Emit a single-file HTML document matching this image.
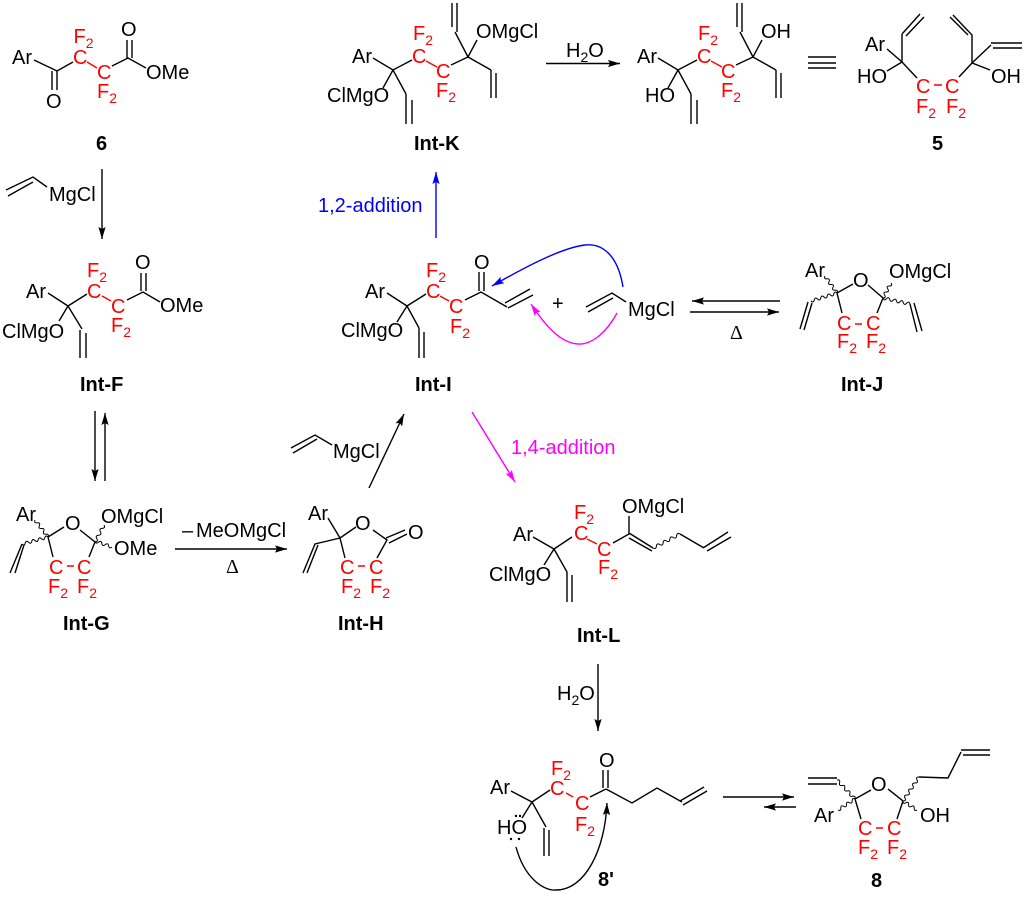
<!DOCTYPE html>
<html><head><meta charset="utf-8"><style>
html,body{margin:0;padding:0;background:#fff}
svg{display:block}
text{font-family:"Liberation Sans",Arial,sans-serif;font-size:20px;fill:#000}
.r text,text.r{fill:#f00}
.b{font-weight:bold}
.s{font-size:14px}
.d{font-family:"Liberation Serif",serif}
</style></head><body>
<svg width="1024" height="897" viewBox="0 0 1024 897" xmlns="http://www.w3.org/2000/svg">
<defs>
<marker id="ak" markerUnits="userSpaceOnUse" markerWidth="14" markerHeight="10" refX="12" refY="4" orient="auto"><path d="M0 .4L12 4L0 7.6L2 4Z" fill="#000"/></marker>
<marker id="ab" markerUnits="userSpaceOnUse" markerWidth="14" markerHeight="10" refX="12" refY="4" orient="auto"><path d="M0 .4L12 4L0 7.6L2 4Z" fill="#00f"/></marker>
<marker id="am" markerUnits="userSpaceOnUse" markerWidth="14" markerHeight="10" refX="12" refY="4" orient="auto"><path d="M0 .4L12 4L0 7.6L2 4Z" fill="#f0f"/></marker>
</defs>

<!-- black bonds -->
<path fill="none" stroke="#000" stroke-width="1.4" d="
M34 60L57 71L73 62M52 71V90M57 71V90M112 66L128 58L146 68M127 40V58M132 40V58
M6 190L33 177L47 187M8 196L33 182
M48 293L68 306L87 294M68 306L59 321M68 306L82 329M80 330V358M86 333V358M127 300L143 292L160 302M141 273V291M146 273V291
M373 58L393 70L412 60M393 70L383 88M393 70L406 94M406 94V124M412 100V124M451 65L468 57L477 40M468 57L455 32M457 32V3M452 27V3M468 57L491 70M491 70V98M496 73V98
M658 58L678 70L697 60M678 70L668 88M678 70L691 94M691 94V124M697 100V124M736 65L753 57L762 40M753 57L740 32M742 32V3M737 27V3M753 57L776 70M776 70V98M781 73V98
M808 57H836M808 63H836M808 68H836
M887 49L902 62L887 71M902 62V34M902 34L920 14M906 36L924 17M902 62L917 78M959 77L972 63L990 70M972 63V35L953 15M968 35L950 17M972 63L991 45M991 43H1022M993 48H1022
M387 293L407 306L426 294M407 306L397 322M407 306L419 328M419 328V358M424 332V358M465 300L481 292L507 307M479 272V291M484 272V291M505 303L530 289M508 308L533 295
M586 307L612 293L626 302M588 312L613 298
M291 448L315 435L332 445M293 453L317 439
M853 284L837 293L842 313M868 285L883 298L877 313M808 302L800 329M812 303L804 330M910 304L917 332M914 303L922 331
M48 537L64 527M80 530L95 542L89 557M48 537L53 557M22 544L10 573M24 545L15 573
M328 518L340 538L356 527M373 530L387 540L377 558M386 538L405 530M389 543L407 534M340 538L345 558M340 538L315 544L303 573M318 545L307 573
M533 537L554 549L572 537M554 549L544 565M554 549L567 572M567 572V602M572 575V602M613 543L629 534V516M629 533L653 548M629 538L652 551M680 534L704 548M703 548L728 532M707 551L731 537
M511 791L532 802L550 790M532 802L522 818M532 802L546 827M544 828V856M549 830V856M590 797L606 789M603 770V788M608 770V788M606 789L632 803L657 788L682 802M680 801L704 787M683 805L707 791
M855 799L871 790M888 789L903 801L897 819M855 799L861 819M808 778H837M808 784H837M919 777L948 778L961 752M961 750H990M963 755H990"/>

<!-- wavy bonds -->
<path fill="none" stroke="#000" stroke-width="1" d="
M35 520q-1.3 3.24 2.17 2.83t2.17 2.83t2.17 2.83t2.17 2.83t2.17 2.83t2.17 2.83
M48 537q-2.4 -2.45 -3.25 .875t-3.25 .875t-3.25 .875t-3.25 .875t-3.25 .875t-3.25 .875t-3.25 .875t-3.25 .875
M95 542q3.55 -.3 1.8 -3.4t1.8 -3.4t1.8 -3.4t1.8 -3.4t1.8 -3.4
M95 541q.7 3.43 3.4 1.2t3.4 1.2t3.4 1.2t3.4 1.2t3.4 1.2
M825 276q-1.45 3.15 2 2.83t2 2.83t2 2.83t2 2.83t2 2.83t2 2.83
M837 293q-2.5 -2.37 -3.25 1t-3.25 1t-3.25 1t-3.25 1t-3.25 1t-3.25 1t-3.25 1t-3.25 1
M883 298q3.45 -.09 1.6 -3t1.6 -3t1.6 -3t1.6 -3t1.6 -3
M883 298q1.04 3.3 3.375 .75t3.375 .75t3.375 .75t3.375 .75t3.375 .75t3.375 .75t3.375 .75t3.375 .75
M653 548q3.07 1.79 3.375 -1.75t3.375 -1.75t3.375 -1.75t3.375 -1.75t3.375 -1.75t3.375 -1.75t3.375 -1.75t3.375 -1.75
M855 799q.88 -3.42 -2.57 -2.71t-2.57 -2.71t-2.57 -2.71t-2.57 -2.71t-2.57 -2.71t-2.57 -2.71t-2.57 -2.71
M855 799q-3.05 -1.6 -2.83 1.83t-2.83 1.83t-2.83 1.83t-2.83 1.83t-2.83 1.83t-2.83 1.83
M903 801q3.5 .17 2 -3t2 -3t2 -3t2 -3t2 -3t2 -3t2 -3t2 -3
M903 801q-.22 3.42 2.8 1.8t2.8 1.8t2.8 1.8t2.8 1.8t2.8 1.8"/>

<!-- red bonds -->
<path fill="none" stroke="#f00" stroke-width="1.4" d="
M87 62L97 68M102 296L111 301M426 61L437 67M711 61L722 67M934 85H942M440 296L449 301M855 324H862M67 566H74M358 566H365M587 539L597 544M566 793L573 797M876 828H883"/>

<!-- arrows -->
<g fill="none" stroke="#000" stroke-width="1.4">
<path marker-end="url(#ak)" d="M102 169V239"/>
<path marker-end="url(#ak)" d="M546 63.5H620"/>
<path marker-end="url(#ak)" d="M95 411V481"/>
<path marker-end="url(#ak)" d="M105 481V413"/>
<path marker-end="url(#ak)" d="M175 549H287"/>
<path marker-end="url(#ak)" d="M369 488L404 414"/>
<path marker-end="url(#ak)" d="M780 301H692"/>
<path marker-end="url(#ak)" d="M690 312H779"/>
<path marker-end="url(#ak)" d="M598 664V731"/>
<path marker-end="url(#ak)" d="M723 797H794"/>
<path marker-end="url(#ak)" d="M796 807H764"/>
<path marker-end="url(#ak)" d="M516 847C525 880 545 891 556 890C585 890 605 850 607 803"/>
</g>
<path fill="none" stroke="#00f" stroke-width="1.4" marker-end="url(#ab)" d="M436 238V172"/>
<path fill="none" stroke="#00f" stroke-width="1.4" marker-end="url(#ab)" d="M623 287C618 256 603 243 585 245C560 248 520 270 492 286"/>
<path fill="none" stroke="#f0f" stroke-width="1.4" marker-end="url(#am)" d="M472 412L515 482"/>
<path fill="none" stroke="#f0f" stroke-width="1.4" marker-end="url(#am)" d="M617 313C605 335 590 345 578 344C560 343 545 325 531 304"/>

<!-- dots -->
<g fill="#000"><circle cx="516" cy="816" r="1.2"/><circle cx="520" cy="816" r="1.2"/><circle cx="511" cy="839" r="1.2"/><circle cx="519" cy="839" r="1.2"/></g>

<!-- 6 -->
<text x="12" y="64">Ar</text><text x="46" y="108">O</text><text x="121" y="36">O</text><text x="146" y="79">OMe</text>
<g class="r"><text x="73" y="64">C</text><text x="97" y="79">C</text>
<text x="73.5" y="43">F<tspan class="s" dy="5">2</tspan></text><text x="97" y="98">F<tspan class="s" dy="5">2</tspan></text></g>
<text class="b" x="96" y="150">6</text>
<text x="49" y="201">MgCl</text>

<!-- Int-F -->
<text x="26" y="298">Ar</text><text x="2" y="338">ClMgO</text><text x="135" y="269">O</text><text x="160" y="312">OMe</text>
<g class="r"><text x="87" y="298">C</text><text x="111" y="313">C</text>
<text x="87" y="277">F<tspan class="s" dy="5">2</tspan></text><text x="111" y="332">F<tspan class="s" dy="5">2</tspan></text></g>
<text class="b" x="80" y="391">Int-F</text>

<!-- Int-K -->
<text x="352" y="63">Ar</text><text x="327" y="102">ClMgO</text><text x="476" y="38">OMgCl</text>
<g class="r"><text x="412" y="63">C</text><text x="436" y="78">C</text>
<text x="413" y="40">F<tspan class="s" dy="5">2</tspan></text><text x="436" y="97">F<tspan class="s" dy="5">2</tspan></text></g>
<text class="b" x="414" y="150">Int-K</text>
<text x="566" y="57">H<tspan class="s" dy="5">2</tspan><tspan dy="-5">O</tspan></text>

<!-- diol -->
<text x="637" y="63">Ar</text><text x="645" y="102">HO</text><text x="761" y="38">OH</text>
<g class="r"><text x="697" y="63">C</text><text x="721" y="78">C</text>
<text x="698" y="40">F<tspan class="s" dy="5">2</tspan></text><text x="721" y="97">F<tspan class="s" dy="5">2</tspan></text></g>

<!-- 5 -->
<text x="865" y="51">Ar</text><text x="857" y="83">HO</text><text x="991" y="83">OH</text>
<g class="r"><text x="916" y="93">C</text><text x="945" y="93">C</text>
<text x="916" y="113">F<tspan class="s" dy="5">2</tspan></text><text x="946" y="113">F<tspan class="s" dy="5">2</tspan></text></g>
<text class="b" x="932" y="150">5</text>

<text x="318" y="212" style="fill:#00f">1,2-addition</text>

<!-- Int-I -->
<text x="365" y="298">Ar</text><text x="341" y="337">ClMgO</text><text x="474" y="269">O</text>
<g class="r"><text x="426" y="298">C</text><text x="449" y="313">C</text>
<text x="426" y="277">F<tspan class="s" dy="5">2</tspan></text><text x="450" y="333">F<tspan class="s" dy="5">2</tspan></text></g>
<text class="b" x="415" y="391">Int-I</text>
<text x="552" y="310">+</text><text x="628" y="316">MgCl</text>

<!-- Int-J -->
<text x="805" y="277">Ar</text><text x="853" y="287">O</text><text x="889" y="278">OMgCl</text>
<g class="r"><text x="837" y="330">C</text><text x="866" y="330">C</text>
<text x="837" y="348">F<tspan class="s" dy="5">2</tspan></text><text x="866" y="348">F<tspan class="s" dy="5">2</tspan></text></g>
<text class="b" x="841" y="391">Int-J</text>
<text class="d" x="730" y="339">Δ</text>

<!-- MgCl over Int-H arrow -->
<text x="333" y="458">MgCl</text>
<text x="511" y="454" style="fill:#f0f">1,4-addition</text>

<!-- Int-G -->
<text x="16" y="521">Ar</text><text x="65" y="530">O</text><text x="101" y="523">OMgCl</text><text x="114" y="555">OMe</text>
<g class="r"><text x="49" y="574">C</text><text x="77" y="574">C</text>
<text x="48" y="593">F<tspan class="s" dy="5">2</tspan></text><text x="77" y="593">F<tspan class="s" dy="5">2</tspan></text></g>
<text class="b" x="63" y="630">Int-G</text>
<text x="182" y="537">–</text><text x="196" y="537">MeOMgCl</text>
<text class="d" x="226" y="573">Δ</text>

<!-- Int-H -->
<text x="308" y="520">Ar</text><text x="355" y="530">O</text><text x="408" y="539">O</text>
<g class="r"><text x="340" y="574">C</text><text x="369" y="574">C</text>
<text x="341" y="593">F<tspan class="s" dy="5">2</tspan></text><text x="370" y="593">F<tspan class="s" dy="5">2</tspan></text></g>
<text class="b" x="338" y="630">Int-H</text>

<!-- Int-L -->
<text x="513" y="541">Ar</text><text x="489" y="581">ClMgO</text><text x="622" y="513">OMgCl</text>
<g class="r"><text x="574" y="540">C</text><text x="597" y="556">C</text>
<text x="574" y="519">F<tspan class="s" dy="5">2</tspan></text><text x="598" y="574">F<tspan class="s" dy="5">2</tspan></text></g>
<text class="b" x="577" y="642">Int-L</text>
<text x="557" y="700">H<tspan class="s" dy="5">2</tspan><tspan dy="-5">O</tspan></text>

<!-- 8' -->
<text x="490" y="794">Ar</text><text x="497" y="834">HO</text><text x="599" y="767">O</text>
<g class="r"><text x="550" y="795">C</text><text x="575" y="810">C</text>
<text x="551" y="775">F<tspan class="s" dy="5">2</tspan></text><text x="575" y="831">F<tspan class="s" dy="5">2</tspan></text></g>
<text class="b" x="598" y="886">8'</text>

<!-- 8 -->
<text x="814" y="822">Ar</text><text x="871" y="791">O</text><text x="920" y="822">OH</text>
<g class="r"><text x="858" y="835">C</text><text x="887" y="835">C</text>
<text x="858" y="854">F<tspan class="s" dy="5">2</tspan></text><text x="887" y="854">F<tspan class="s" dy="5">2</tspan></text></g>
<text class="b" x="871" y="887">8</text>
</svg>
</body></html>
